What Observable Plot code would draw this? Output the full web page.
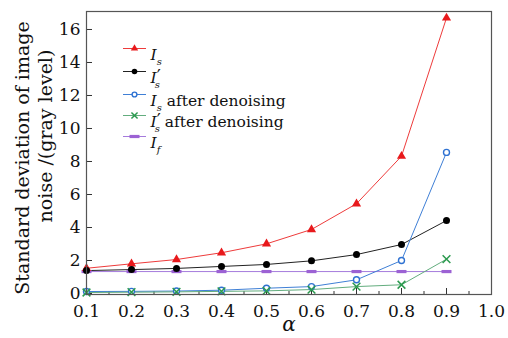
<!DOCTYPE html>
<html><head><meta charset="utf-8">
<script src="https://cdn.jsdelivr.net/npm/d3@7"></script>
<script src="https://cdn.jsdelivr.net/npm/@observablehq/plot@0.6"></script>
<style>
body{margin:0;background:#fff;}
#chart svg{font-family:"DejaVu Serif",serif;background:#fff;}
</style></head><body><div id="chart"></div>
<script>
// ---- data ----
const alpha = [0.1, 0.2, 0.3, 0.4, 0.5, 0.6, 0.7, 0.8, 0.9];
const Is = [1.53, 1.8, 2.06, 2.47, 3.01, 3.88, 5.44, 8.32, 16.7];
const IsPrime = [1.39, 1.45, 1.52, 1.64, 1.76, 1.98, 2.36, 2.97, 4.42];
const IsDenoised = [0.12, 0.13, 0.15, 0.2, 0.32, 0.42, 0.83, 2.0, 8.55];
const IsPrimeDenoised = [0.06, 0.08, 0.1, 0.13, 0.16, 0.24, 0.42, 0.53, 2.08];
const If = [1.33, 1.33, 1.33, 1.33, 1.33, 1.33, 1.33, 1.33, 1.33];
const seriesNames = ["I_s", "I_s'", "I_s after denoising", "I_s' after denoising", "I_f"];
const xTicks = [0.1, 0.2, 0.3, 0.4, 0.5, 0.6, 0.7, 0.8, 0.9, 1.0];
const xMinorTicks = [0.15, 0.25, 0.35, 0.45, 0.55, 0.65, 0.75, 0.85, 0.95];
const yTicks = [0, 2, 4, 6, 8, 10, 12, 14, 16];
const xLabel = "α";
const yLabel1 = "Standard deviation of image";
const yLabel2 = "noise /(gray level)";

// ---- styles ----
const FONT = "DejaVu Serif, serif";
const seriesValues = [Is, IsPrime, IsDenoised, IsPrimeDenoised, If];
const dashSym = {draw(ctx) { ctx.rect(-5, -1.6, 10, 3.2); }};
const segSym = {draw(ctx) { ctx.moveTo(-11.5, 0); ctx.lineTo(11.5, 0); }};
const styles = [
  {line: "#ee3b3b", symbol: "triangle", r: 3.4, fill: "#e8191c", stroke: "none"},
  {line: "#222", symbol: "circle", r: 3.5, fill: "#000", stroke: "none"},
  {line: "#3f7fd6", symbol: "circle", r: 3, fill: "#fff", stroke: "#2f72d2", sw: 1.4},
  {line: "#63ad7e", symbol: "times", r: 3.6, fill: "none", stroke: "#2c9a4f", sw: 1.5},
  {line: "#a57bdc", symbol: dashSym, r: 3, fill: "#9c62d4", stroke: "none"}
];
const rows = seriesValues.map((vals, k) => alpha.map((a, i) => ({alpha: a, value: vals[i], series: seriesNames[k]})));

const drawOrder = [4, 0, 1, 2, 3];
const marks = [];
for (const k of drawOrder) {
  const s = styles[k];
  marks.push(Plot.line(rows[k], {x: "alpha", y: "value", stroke: s.line, strokeWidth: 1}));
}
for (const k of drawOrder) {
  const s = styles[k];
  marks.push(Plot.dot(rows[k], {x: "alpha", y: "value", symbol: s.symbol, r: s.r, fill: s.fill, stroke: s.stroke, strokeWidth: s.sw || 1}));
}
// legend
const legendDy = [37, 60, 83, 104, 125];
seriesNames.forEach((name, k) => {
  const s = styles[k];
  marks.push(Plot.dot([name], {frameAnchor: "top-left", dx: 48, dy: legendDy[k], symbol: segSym, fill: "none", stroke: s.line, strokeWidth: 1}));
  marks.push(Plot.dot([name], {frameAnchor: "top-left", dx: 48, dy: legendDy[k], symbol: s.symbol, r: s.r * 0.8, fill: s.fill, stroke: s.stroke, strokeWidth: s.sw || 1}));
  marks.push(Plot.text([name], {frameAnchor: "top-left", dx: 64, dy: legendDy[k], text: d => d, textAnchor: "start", fontSize: 15.5, fill: "#111"}));
});

const chart = Plot.plot({
  width: 508, height: 338,
  marginLeft: 86, marginRight: 17, marginTop: 11, marginBottom: 44,
  style: {fontFamily: FONT, color: "#111"},
  x: {domain: [0.1, 1.0]},
  y: {domain: [-0.06, 17.09]},
  marks: [
    Plot.axisX({ticks: xTicks, tickSize: -6, tickFormat: () => "", label: null, stroke: "#333"}),
    Plot.axisX({ticks: xMinorTicks, tickSize: -3, tickFormat: () => "", label: null, stroke: "#333"}),
    Plot.axisX({ticks: xTicks, tickSize: 0, tickPadding: 10, tickFormat: d3.format(".1f"), label: null, fontSize: 17, fill: "#111"}),
    Plot.axisY({ticks: yTicks, tickSize: -6, tickFormat: () => "", label: null, stroke: "#333"}),
    Plot.axisY({ticks: yTicks, tickSize: 0, tickPadding: 6, label: null, fontSize: 17, fill: "#111"}),
    ...marks,
    Plot.frame({stroke: "#555", strokeWidth: 1.2}),
    Plot.text([xLabel], {frameAnchor: "bottom", dy: 36, text: d => d, fontSize: 20, fontStyle: "italic", fill: "#111"}),
    Plot.text([yLabel1], {frameAnchor: "left", textAnchor: "middle", dx: -64, dy: 5, rotate: -90, text: d => d, fontSize: 19, fill: "#111"}),
    Plot.text([yLabel2], {frameAnchor: "left", textAnchor: "middle", dx: -41, dy: -17, rotate: -90, text: d => d, fontSize: 19, fill: "#111"})
  ]
});
document.getElementById("chart").appendChild(chart);

// rich formatting for legend labels (italic I with subscript s / f, prime)
const NS = "http://www.w3.org/2000/svg";
function ts(parent, txt, attrs) {
  const t = document.createElementNS(NS, "tspan");
  t.textContent = txt;
  for (const [a, v] of Object.entries(attrs || {})) t.setAttribute(a, v);
  parent.appendChild(t);
  return t;
}
chart.querySelectorAll("text").forEach(el => {
  const txt = el.textContent;
  if (!seriesNames.includes(txt)) return;
  const m = txt.match(/^I_([sf])('?)(.*)$/);
  if (!m) return;
  el.textContent = "";
  ts(el, "I", {"font-style": "italic"});
  if (m[2]) {
    ts(el, "′", {"font-size": "18"});
    ts(el, m[1], {"font-style": "italic", "font-size": "10", dy: "5", dx: "-6"});
  } else {
    ts(el, m[1], {"font-style": "italic", "font-size": "10", dy: "5"});
  }
  if (m[3]) ts(el, m[3], {dy: "-5"});
});
</script>
</body></html>
